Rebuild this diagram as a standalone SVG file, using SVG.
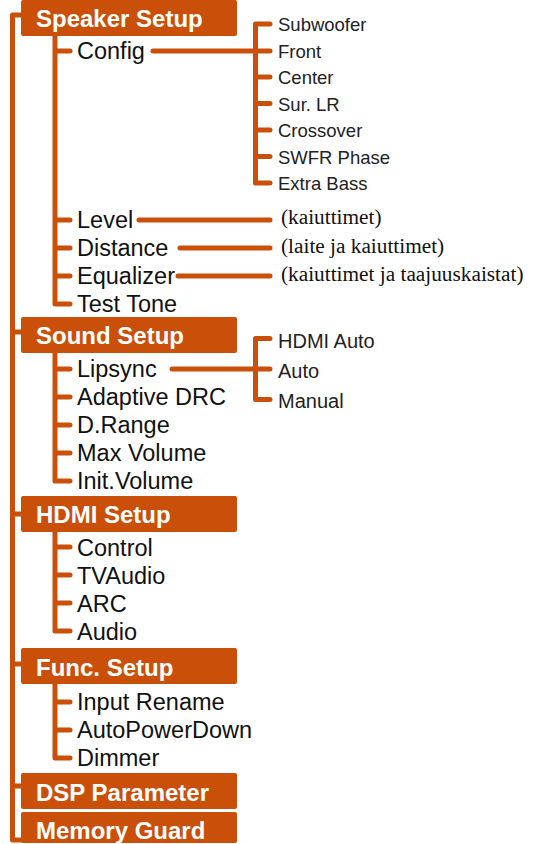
<svg xmlns="http://www.w3.org/2000/svg" width="546" height="844" viewBox="0 0 546 844">
<style>
.hdr{fill:#CA4F08}
.ht{font-family:"Liberation Sans",Arial,sans-serif;font-weight:bold;font-size:24px;fill:#fff}
.it{font-family:"Liberation Sans",Arial,sans-serif;font-size:23.5px;fill:#111}
.sub{font-family:"Liberation Sans",Arial,sans-serif;font-size:18.5px;fill:#222}
.sub2{font-family:"Liberation Sans",Arial,sans-serif;font-size:20px;fill:#222}
.note{font-family:"Liberation Serif","Times New Roman",serif;font-size:21.3px;fill:#111}
.ln{fill:none;stroke:#CA4F08;stroke-width:5;stroke-linecap:round;stroke-linejoin:round}
</style>
<rect width="546" height="844" fill="#fff"/>
<g id="connectors">
<path class="ln" d="M21 15 H12.5 V840 H21"/>
<path class="ln" d="M12.5 332 H21 M12.5 514 H21 M12.5 664 H21 M12.5 786 H21"/>
<path class="ln" d="M55 36 V304 H70 M55 51 H70 M55 220 H70 M55 248 H70 M55 276 H70"/>
<path class="ln" d="M153 51 H270 M270 24 H255.5 V183 H270 M255.5 77 H270 M255.5 103.5 H270 M255.5 130 H270 M255.5 156.5 H270"/>
<path class="ln" d="M139 220 H270 M180 248 H270 M178 276 H270"/>
<path class="ln" d="M55 353 V481 H70 M55 369 H70 M55 397 H70 M55 425 H70 M55 453 H70"/>
<path class="ln" d="M172 369 H270 M270 338.5 H255.5 V399.5 H270"/>
<path class="ln" d="M55 532 V631 H70 M55 547 H70 M55 575 H70 M55 603 H70"/>
<path class="ln" d="M55 684 V758 H70 M55 702 H70 M55 730 H70"/>
</g>
<g id="speaker-setup"><rect class="hdr" x="21" y="0" width="216" height="36" rx="2"/><text class="ht" x="36" y="27">Speaker Setup</text></g>
<g id="config"><text class="it" x="77" y="59">Config</text></g>
<g id="config-options">
<text class="sub" x="278" y="31">Subwoofer</text>
<text class="sub" x="278" y="57.5">Front</text>
<text class="sub" x="278" y="84">Center</text>
<text class="sub" x="278" y="110.5">Sur. LR</text>
<text class="sub" x="278" y="137">Crossover</text>
<text class="sub" x="278" y="163.5">SWFR Phase</text>
<text class="sub" x="278" y="190">Extra Bass</text>
</g>
<g id="level"><text class="it" x="77" y="228">Level</text><text class="note" x="281" y="224">(kaiuttimet)</text></g>
<g id="distance"><text class="it" x="77" y="256">Distance</text><text class="note" x="281" y="253">(laite ja kaiuttimet)</text></g>
<g id="equalizer"><text class="it" x="77" y="284">Equalizer</text><text class="note" x="281" y="281">(kaiuttimet ja taajuuskaistat)</text></g>
<g id="test-tone"><text class="it" x="77" y="312">Test Tone</text></g>
<g id="sound-setup"><rect class="hdr" x="21" y="317" width="216" height="36" rx="2"/><text class="ht" x="36" y="344">Sound Setup</text></g>
<g id="lipsync"><text class="it" x="77" y="377">Lipsync</text>
<text class="sub2" x="278" y="347.5">HDMI Auto</text>
<text class="sub2" x="278" y="377.5">Auto</text>
<text class="sub2" x="278" y="407.5">Manual</text></g>
<g id="adaptive-drc"><text class="it" x="77" y="405">Adaptive DRC</text></g>
<g id="d-range"><text class="it" x="77" y="433">D.Range</text></g>
<g id="max-volume"><text class="it" x="77" y="461">Max Volume</text></g>
<g id="init-volume"><text class="it" x="77" y="489">Init.Volume</text></g>
<g id="hdmi-setup"><rect class="hdr" x="21" y="496" width="216" height="36" rx="2"/><text class="ht" x="36" y="523">HDMI Setup</text></g>
<g id="control"><text class="it" x="77" y="555.5">Control</text></g>
<g id="tvaudio"><text class="it" x="77" y="583.5">TVAudio</text></g>
<g id="arc"><text class="it" x="77" y="611.5">ARC</text></g>
<g id="audio"><text class="it" x="77" y="639.5">Audio</text></g>
<g id="func-setup"><rect class="hdr" x="21" y="648" width="216" height="36" rx="2"/><text class="ht" x="36" y="676">Func. Setup</text></g>
<g id="input-rename"><text class="it" x="77" y="710">Input Rename</text></g>
<g id="autopowerdown"><text class="it" x="77" y="738">AutoPowerDown</text></g>
<g id="dimmer"><text class="it" x="77" y="766">Dimmer</text></g>
<g id="dsp-parameter"><rect class="hdr" x="21" y="773" width="216" height="36" rx="2"/><text class="ht" x="36" y="801">DSP Parameter</text></g>
<g id="memory-guard"><rect class="hdr" x="21" y="812" width="216" height="31" rx="2"/><text class="ht" x="36" y="839">Memory Guard</text></g>
</svg>
